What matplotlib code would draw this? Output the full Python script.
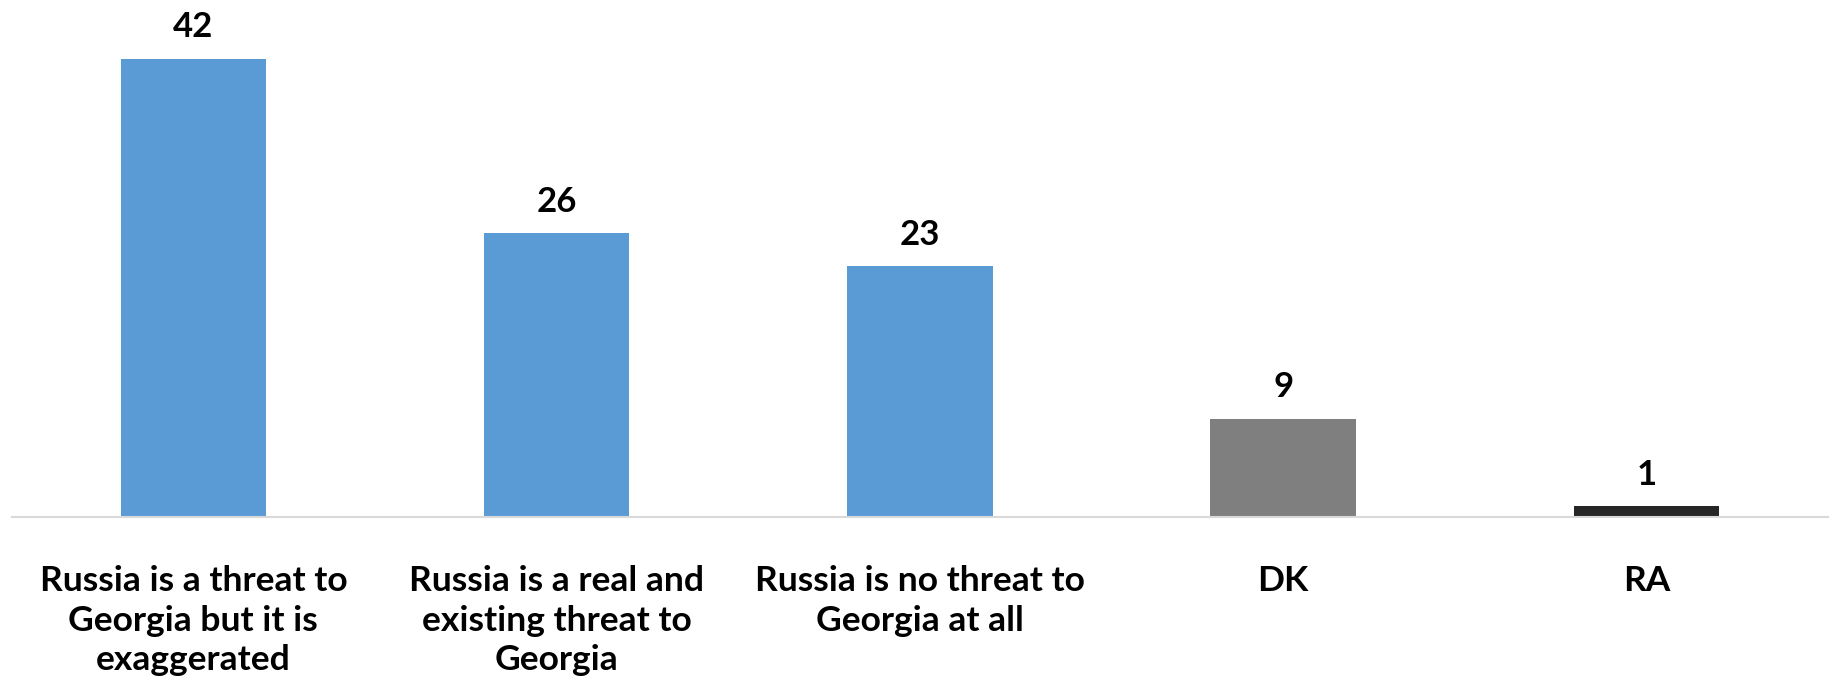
import matplotlib
matplotlib.use("Agg")
import matplotlib.pyplot as plt

categories = ["Russia is a threat to\nGeorgia but it is\nexaggerated",
              "Russia is a real and\nexisting threat to\nGeorgia",
              "Russia is no threat to\nGeorgia at all",
              "DK", "RA"]
values = [42, 26, 23, 9, 1]
colors = ["#5B9BD5", "#5B9BD5", "#5B9BD5", "#7F7F7F", "#262626"]

plt.rcParams['font.family'] = ['Lato', 'DejaVu Sans']

fig = plt.figure(figsize=(18.37, 6.89), dpi=100)
W, H = 1837, 689
left, right = 11.7, 1828
bottom = 689 - 516.7
top_px = 26
ax = fig.add_axes([left / W, bottom / H, (right - left) / W, (H - top_px - bottom) / H])

x = list(range(len(categories)))
bars = ax.bar(x, values, width=0.4, color=colors, zorder=2)
ax.set_xlim(-0.5, len(categories) - 0.5)
ax.set_ylim(0, 45)

for xi, v in zip(x, values):
    ax.annotate(str(v), (xi, v), xytext=(0, 11), textcoords="offset points",
                ha="center", va="bottom", fontsize=25, fontweight="bold", color="#000000")

for s in ["top", "right", "left"]:
    ax.spines[s].set_visible(False)
ax.spines["bottom"].set_color("#D9D9D9")
ax.spines["bottom"].set_linewidth(1.5)
ax.set_yticks([])
ax.set_xticks(x)
ax.set_xticklabels(categories, fontsize=25.5, fontweight="bold", linespacing=1.28, va="top")
ax.tick_params(axis="x", length=0, pad=35)

fig.savefig("out.png", dpi=100)
